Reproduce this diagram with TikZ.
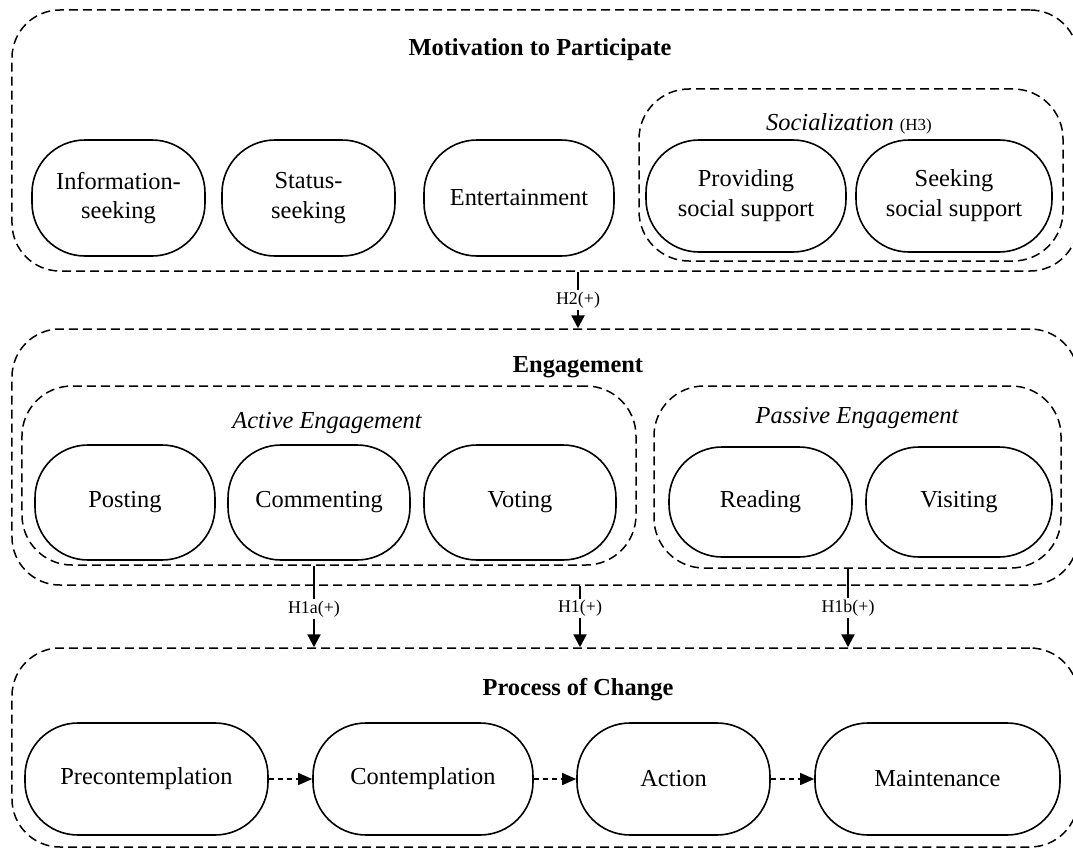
\documentclass[tikz,border=0pt]{standalone}
\usepackage{fontspec}
\setmainfont{Liberation Serif}
\usetikzlibrary{arrows.meta,calc}
\begin{document}
\begin{tikzpicture}[x=1bp,y=-1bp,
  every node/.style={font=\fontsize{24.5}{30}\selectfont},
  solidbox/.style={draw, line width=1.6bp, rounded corners=53bp, align=center, inner sep=0pt},
  dashbox/.style={draw, line width=1.5bp, dash pattern=on 9bp off 5bp, rounded corners=50bp, inner sep=0pt},
  outerbox/.style={dashbox, rounded corners=48bp},
  titletext/.style={font=\fontsize{24.5}{30}\selectfont\bfseries, inner sep=0pt},
  subtitle/.style={font=\fontsize{24.5}{30}\selectfont\itshape, inner sep=0pt},
  hlabel/.style={font=\fontsize{18}{20}\selectfont, fill=white, inner sep=1.5bp},
  harrow/.style={line width=2.4bp, -{Triangle[width=13bp,length=13bp]}},
  procarrow/.style={line width=1.3bp, dash pattern=on 5bp off 4bp, -{Triangle[width=12bp,length=14bp]}}
]
\useasboundingbox (0,0) rectangle (1073,848);
\clip (0,0) rectangle (1073,848);

% ---------- Motivation ----------
\node[outerbox, minimum width=1066bp, minimum height=261bp] (mot) at (545,140.5) {};
\node[titletext] (tmot) at (540,50) {Motivation to Participate};
\node[dashbox, minimum width=424bp, minimum height=172bp] (soc) at (851,175) {};
\node[inner sep=0pt] (tsoc) at (849,124) {\itshape Socialization\/ \fontsize{17}{19}\selectfont\upshape(H3)};
\node[solidbox, minimum width=173bp, minimum height=116bp] (info) at (118.5,198) {Information-\\seeking};
\node[solidbox, minimum width=173bp, minimum height=116bp] (stat) at (308.5,198) {Status-\\seeking};
\node[solidbox, minimum width=190bp, minimum height=116bp] (ent) at (519,198) {Entertainment};
\node[solidbox, minimum width=200bp, minimum height=112bp] (prov) at (746,196) {Providing\\social support};
\node[solidbox, minimum width=196bp, minimum height=112bp] (seek) at (954,196) {Seeking\\social support};

% ---------- Engagement ----------
\node[outerbox, minimum width=1066bp, minimum height=256bp] (eng) at (545,457) {};
\node[titletext] (teng) at (578,367) {Engagement};
\node[dashbox, minimum width=614bp, minimum height=179bp] (act) at (329,475.5) {};
\node[subtitle] (tact) at (327,423) {Active Engagement};
\node[solidbox, minimum width=180bp, minimum height=115bp] (post) at (125,502.5) {Posting};
\node[solidbox, minimum width=182bp, minimum height=115bp] (comm) at (319,502.5) {Commenting};
\node[solidbox, minimum width=192bp, minimum height=115bp] (vote) at (520,502.5) {Voting};
\node[dashbox, minimum width=407bp, minimum height=182bp] (pas) at (857.5,477) {};
\node[subtitle] (tpas) at (857,418) {Passive Engagement};
\node[solidbox, minimum width=183bp, minimum height=110bp] (read) at (760.5,502) {Reading};
\node[solidbox, minimum width=186bp, minimum height=110bp] (visit) at (959,502) {Visiting};

% ---------- Process of Change ----------
\node[outerbox, minimum width=1066bp, minimum height=199bp] (proc) at (545,747.5) {};
\node[titletext] (tproc) at (578,690) {Process of Change};
\node[solidbox, minimum width=243bp, minimum height=112bp] (pre) at (146.5,779) {Precontemplation};
\node[solidbox, minimum width=220bp, minimum height=112bp] (con) at (423,779) {Contemplation};
\node[solidbox, minimum width=193bp, minimum height=112bp] (actn) at (673.5,779) {Action};
\node[solidbox, minimum width=245bp, minimum height=112bp] (mnt) at (937.5,779) {Maintenance};

\draw[procarrow] (pre) -- (con);
\draw[procarrow] (con) -- (actn);
\draw[procarrow] (actn) -- (mnt);

% ---------- Hypotheses ----------
\coordinate (xh2) at (578,0);
\coordinate (xh1a) at (314,0);
\coordinate (xh1) at (580,0);
\coordinate (xh1b) at (848,0);
\draw[harrow] (xh2 |- mot.south) -- node[hlabel, pos=0.5] (lh2) {H2(+)} (xh2 |- eng.north);
\draw[harrow] (xh1a |- act.south) -- node[hlabel, pos=0.53] (lh1a) {H1a(+)} (xh1a |- proc.north);
\draw[harrow] (xh1 |- eng.south) -- node[hlabel, pos=0.37] (lh1) {H1(+)} (xh1 |- proc.north);
\draw[harrow] (xh1b |- pas.south) -- node[hlabel, pos=0.5] (lh1b) {H1b(+)} (xh1b |- proc.north);
\end{tikzpicture}
\end{document}
